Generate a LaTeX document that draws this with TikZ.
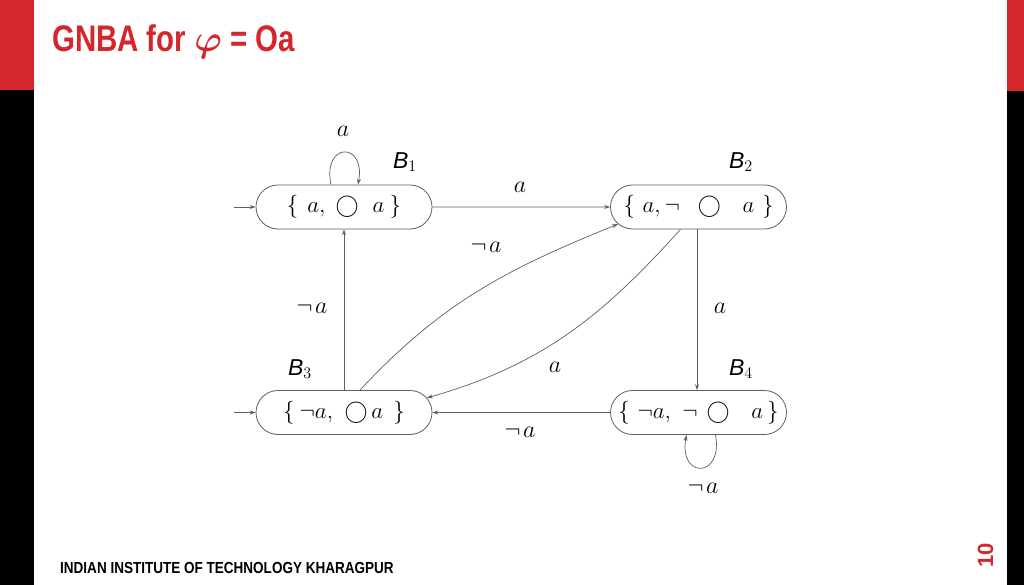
\RequirePackage{fix-cm}
\documentclass[tikz,border=0pt]{standalone}
\usepackage{fontspec}
\setsansfont{Liberation Sans}
\newfontfamily\titlefont[FakeStretch=0.795]{Liberation Sans}
\newfontfamily\footfont[FakeStretch=0.845]{Liberation Sans}
\usetikzlibrary{shapes.misc,arrows.meta}
\definecolor{iitred}{RGB}{211,38,45}
\definecolor{edgegray}{RGB}{95,95,95}
\tikzset{
  state/.style={rounded rectangle,draw=edgegray,line width=0.8pt,minimum width=176pt,minimum height=44pt,inner sep=0pt,font=\fontsize{23}{27}\selectfont},
  edge/.style={draw=edgegray,line width=0.7pt,-{Stealth[length=6pt,width=4pt]}},
  lab/.style={font=\fontsize{24}{28}\selectfont,inner sep=0pt},
  blab/.style={font=\fontsize{23}{27}\selectfont,inner sep=0pt},
}
\newcommand{\Bl}[1]{$\textsf{\itshape B}_{#1}$}
\begin{document}
\begin{tikzpicture}[x=1pt,y=1pt]
\useasboundingbox (0,0) rectangle (1024,-585);
\fill[white] (0,0) rectangle (1024,-585);
% bars
\fill[iitred] (0,0) rectangle (34,-90);
\fill[black] (0,-90) rectangle (34,-585);
\fill[iitred] (1007,0) rectangle (1024,-91);
\fill[black] (1007,-91) rectangle (1024,-585);
% title
\node[anchor=base west,inner sep=0pt,text=iitred,font=\titlefont\bfseries\fontsize{37}{40}\selectfont] (title) at (52,-52) {GNBA for {\boldmath$\varphi$} = Oa};
% footer
\node[anchor=base west,inner sep=0pt,font=\footfont\bfseries\fontsize{16}{18}\selectfont] (footer) at (60,-573) {INDIAN INSTITUTE OF TECHNOLOGY KHARAGPUR};
\node[rotate=90,inner sep=0pt,text=iitred,font=\sffamily\bfseries\fontsize{22}{24}\selectfont] (pnum) at (985.5,-555) {10};
% states
\node[state] (B1) at (344,-207) {$\{\mkern7mu a,\mkern5mu{\bigcirc}\mkern11mu a\mkern4mu\}$};
\node[state] (B2) at (698.5,-207) {$\{\mkern6mu a,\neg\mkern14mu{\bigcirc}\mkern17mu a\mkern6mu\}$};
\node[state] (B3) at (344,-412.5) {$\{\mkern4mu\neg a,\mkern6mu{\bigcirc}\mkern3mu a\mkern8mu\}$};
\node[state] (B4) at (698.5,-412.5) {$\{\mkern6mu\neg a,\mkern6mu\neg\mkern7mu{\bigcirc}\mkern17mu a\mkern3mu\}$};
% state names
\node[blab] (n1) at (405,-162) {\Bl{1}};
\node[blab] (n2) at (741,-162) {\Bl{2}};
\node[blab] (n3) at (300,-369) {\Bl{3}};
\node[blab] (n4) at (741,-369) {\Bl{4}};
% initial arrows
\coordinate (i1) at (234,-207);
\coordinate (i3) at (234,-412.5);
\draw[edge] (i1) -- (B1);
\draw[edge] (i3) -- (B3);
% edges
\draw[edge] (B1) -- (B2);
\draw[edge] (B3.north) -- (B1.south);
\draw[edge] ([xshift=-1.5pt]B2.south) -- ([xshift=-1.5pt]B4.north);
\draw[edge] (B4) -- (B3);
\draw[edge] ([xshift=16pt]B3.north) to[out=47,in=202] (B2.192);
\draw[edge] ([xshift=-18pt]B2.south) to[out=-132,in=16] (B3.10);
% self loops
\draw[edge] ([xshift=-13pt]B1.north) .. controls +(-9,43) and +(8,43) .. ([xshift=14pt]B1.north);
\draw[edge] ([xshift=17pt]B4.south) .. controls +(8,-44) and +(-8,-44) .. ([xshift=-12pt]B4.south);
% labels
\node[lab] (l11) at (343,-131) {$a$};
\node[lab] (l12) at (520,-187) {$a$};
\node[lab] (l31) at (312,-308) {$\neg\mkern2mu a$};
\node[lab] (l24) at (720,-308) {$a$};
\node[lab] (l43) at (520,-432) {$\neg\mkern2mu a$};
\node[lab] (l32) at (486,-247) {$\neg\mkern2mu a$};
\node[lab] (l23) at (555,-367) {$a$};
\node[lab] (l44) at (703,-488) {$\neg\mkern2mu a$};
\end{tikzpicture}
\end{document}
